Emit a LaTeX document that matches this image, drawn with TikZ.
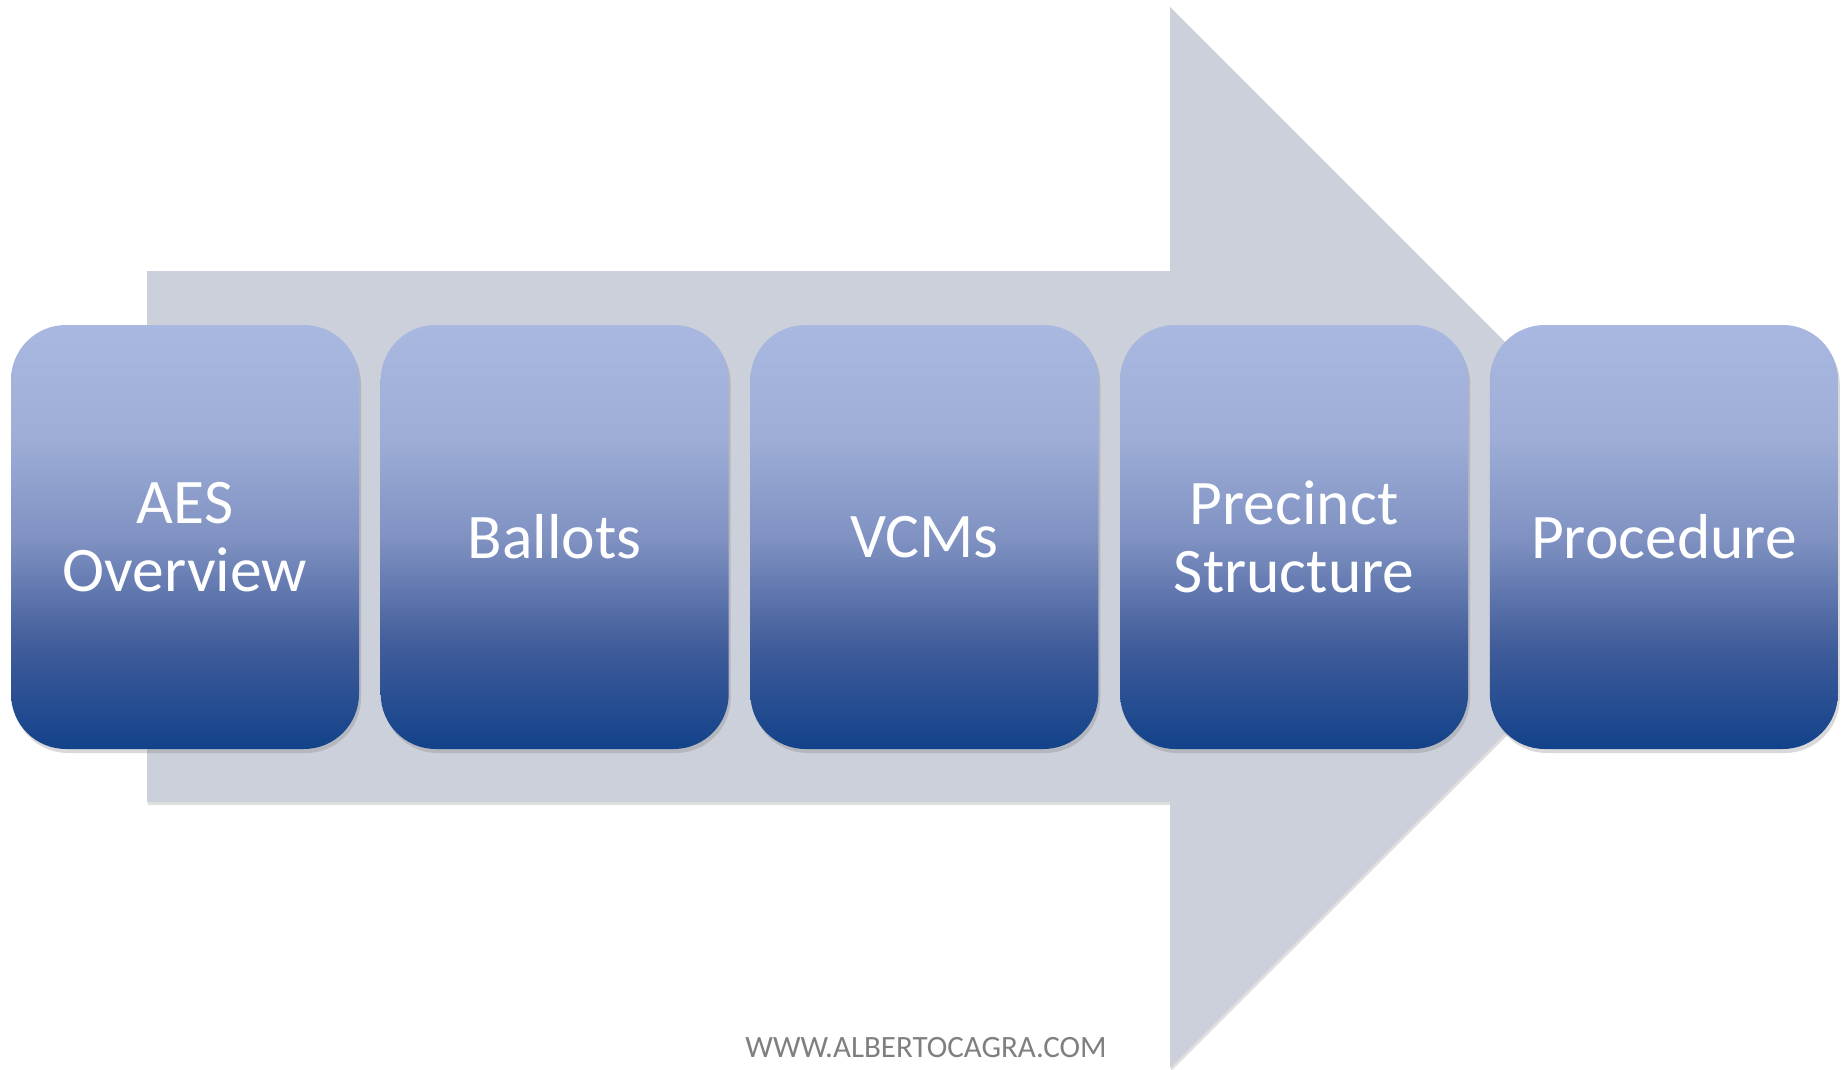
\documentclass[tikz,border=0pt]{standalone}
\usepackage{fontspec}
\setmainfont{Carlito}
\usepackage{tikz}
\usetikzlibrary{shapes,shadows,positioning}
\definecolor{arrowgray}{RGB}{204,208,218}
\definecolor{boxtop}{RGB}{169,184,224}
\definecolor{boxhigh}{RGB}{158,174,216}
\definecolor{boxmid}{RGB}{128,146,194}
\definecolor{boxlow}{RGB}{64,92,154}
\definecolor{boxbot}{RGB}{18,66,138}
\definecolor{sitegray}{RGB}{127,127,127}
\pgfdeclareverticalshading{phasegrad}{100bp}{color(0bp)=(boxbot); color(25bp)=(boxbot); color(37bp)=(boxlow); color(50bp)=(boxmid); color(62bp)=(boxhigh); color(75bp)=(boxtop); color(100bp)=(boxtop)}
\tikzstyle{phase}=[rectangle,rounded corners=55pt,shade,shading=phasegrad,text=white,inner sep=0pt,outer sep=0pt,minimum width=348pt,minimum height=424pt,align=center,font=\fontsize{63.5}{68}\selectfont,drop shadow={shadow xshift=2pt,shadow yshift=-4pt,opacity=0.3}]
\tikzstyle{backarrow}=[fill=arrowgray,drop shadow={shadow xshift=1pt,shadow yshift=-3pt,opacity=0.25}]
\tikzstyle{watermark}=[anchor=base,text=sitegray,inner sep=0pt,font=\fontsize{31}{31}\selectfont]

\begin{document}
\begin{tikzpicture}[x=1pt,y=-1pt]
    \useasboundingbox (0,0) rectangle (1845,1070);

    % Pfeil
    \fill[backarrow] (147,271) -- (1170,271) -- (1170,7) -- (1701,538) -- (1170,1068) -- (1170,802) -- (147,802) -- cycle;

    % Kaesten
    \node[phase] (aes) at (185,537) {AES\\Overview};
    \node[phase] (ballots) [right=21.7pt of aes] {Ballots};
    \node[phase] (vcms) [right=21.7pt of ballots] {VCMs};
    \node[phase] (precinct) [right=21.7pt of vcms] {Precinct\\Structure};
    \node[phase] (procedure) [right=21.7pt of precinct] {Procedure};

    % Webseite
    \node[watermark] (site) at (926,1057) {WWW.ALBERTOCAGRA.COM};

\end{tikzpicture}
\end{document}
